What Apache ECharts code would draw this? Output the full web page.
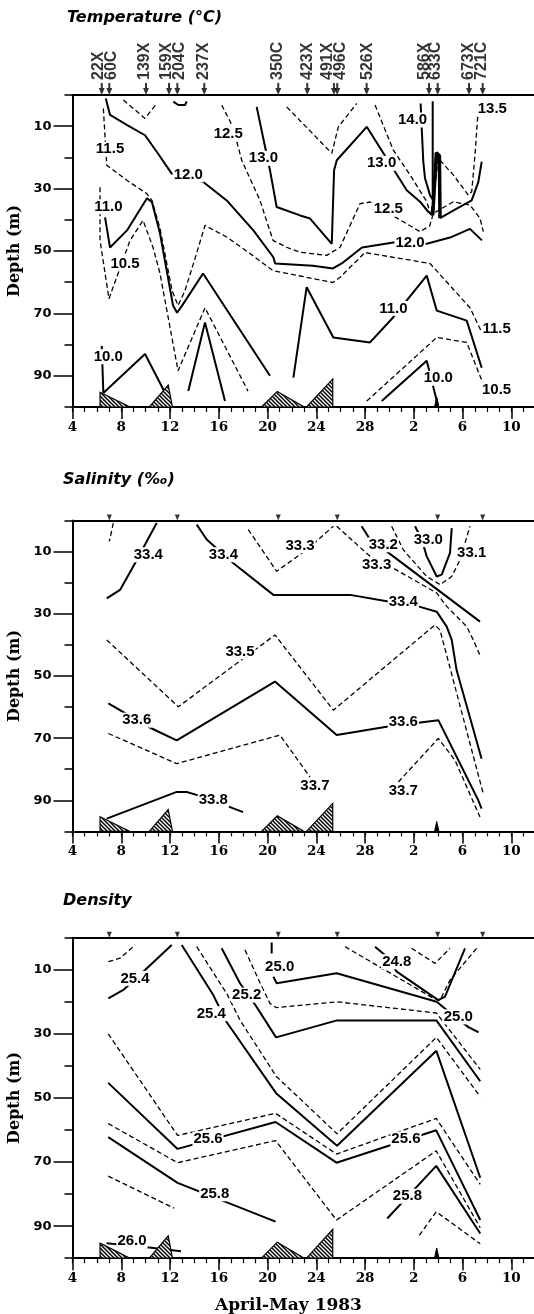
<!DOCTYPE html>
<html>
<head>
<meta charset="utf-8">
<title>Temperature, salinity and density sections, April-May 1983</title>
<script src="https://cdn.jsdelivr.net/npm/echarts@6/dist/echarts.min.js"></script>
<style>
html,body{margin:0;padding:0;background:#fff;}
#chart{width:534px;height:1314px;}
</style>
</head>
<body>
<div id="chart"></div>
<script>
// ---------------- data (day of April; May 2 = 32; depth in m) ----------------
const xTickDays = [4, 8, 12, 16, 20, 24, 28, 32, 36, 40];
const xTickLabels = ['4', '8', '12', '16', '20', '24', '28', '2', '6', '10'];
const depthTickLabels = [10, 30, 50, 70, 90];
const panelTitles = ['Temperature (°C)', 'Salinity (‰)', 'Density'];
const xAxisTitle = 'April-May 1983';
const yAxisTitle = 'Depth (m)';

const stationNames = ['22X', '60C', '139X', '159X', '204C', '237X', '350C', '423X', '491X', '496C', '526X', '586X', '633C', '673X', '721C'];
const stationDays = [6.40, 7.02, 10.03, 11.92, 12.60, 14.81, 20.88, 23.26, 25.45, 25.72, 28.13, 33.25, 33.96, 36.53, 37.65];
const ctdDays = [7.02, 12.60, 20.88, 25.72, 33.96, 37.65];

// bottom features (hatched) and the small bottom spike
const bottomShapes = [
  [[6.26, 95.3], [8.7, 100], [6.26, 100]],
  [[10.3, 100], [11.85, 93], [12.2, 100]],
  [[19.5, 100], [20.8, 95], [23.0, 100]],
  [[23.2, 100], [25.35, 91], [25.35, 100]]
];
const spikeShapes = [[[33.7, 100], [33.88, 96.8], [34.06, 100]]];

// ---- Temperature contours ----
const T120 = [[6.73,1.1],[7.08,6.4],[8.45,9.6],[9.95,12.9],[10.91,18.2],[12.14,25.2],[13.5,26.6],[14.73,27.9],[16.65,33.8],[18.84,43.4],[20.48,52.0],[20.62,54.0],[23.73,54.7],[25.37,55.6],[26.19,53.7],[27.75,48.9],[30.46,47.2],[33.06,47.7],[34.97,45.7],[36.61,42.9],[37.59,46.6]];
const T115 = [[6.53,4.3],[6.81,22.5],[8.45,27.3],[10.09,31.6],[10.52,33.8],[11.18,42.8],[12.17,62.7],[12.66,67.5],[13.23,62.7],[14.13,51.4],[14.87,41.8],[16.68,45.6],[18.56,50.8],[20.45,56.3],[25.37,60.1],[25.95,58.4],[28.0,50.5],[33.33,54.0],[36.61,68.2],[37.59,76.2]];
const T110a = [[6.67,39.2],[7.08,48.9],[8.47,43.4],[10.11,33.1],[10.52,34.4],[11.18,44.4],[12.25,67.5],[12.58,69.8],[12.99,67.5],[14.71,57.2],[20.2,90.0]];
const T110b = [[22.12,90.6],[23.21,61.6],[25.40,77.7],[28.41,79.3],[30.3,71.3],[33.06,57.9],[33.88,69.1],[36.34,72.3],[37.57,87.4]];
const T105a = [[6.26,29.6],[6.26,46.6],[6.99,65.3],[8.72,46.6],[9.79,40.2],[10.61,48.9],[11.18,57.2],[12.66,88.4],[14.87,68.2],[18.40,94.9]];
const T105b = [[28.14,98.1],[33.88,77.7],[36.34,79.3],[37.70,92.7]];
const T100a = [[6.40,80.4],[6.53,95.5],[9.95,83.0],[12.1,99.3]];
const T100b = [[29.37,98.1],[33.06,85.2],[34.01,100]];
const TPeak = [[13.50,94.9],[14.87,72.9],[16.51,98.1]];
const T125 = [[16.24,3.2],[17.17,10.3],[17.88,20.9],[19.38,33.8],[20.45,46.6],[21.57,48.8],[22.67,50.4],[24.86,51.4],[25.95,48.8],[27.59,34.8],[28.41,34.3],[31.42,41.3],[32.51,43.8],[33.3,42.0],[33.6,38.0],[34.0,37.0],[35.24,34.2],[36.61,35.3],[37.43,39.5],[37.7,43.8]];
const T130 = [[19.11,3.8],[20.2,24.1],[20.75,35.9],[22.67,38.6],[23.49,39.6],[25.27,47.7],[25.46,24.1],[25.68,20.9],[28.14,10.2],[31.42,30.5],[32.51,34.2],[33.2,37.5],[33.55,38.5]];
const T130b = [[34.15,39.5],[35.52,36.4],[36.75,33.8],[37.29,27.9],[37.57,21.4]];
const T135a = [[21.57,3.8],[25.27,18.7],[25.81,10.2],[27.32,2.7]];
const T135b = [[28.82,3.2],[30.32,17.7],[31.69,25.6],[33.06,34.2],[33.4,38.5],[33.7,30.0],[34.01,20.3],[35.24,25.6],[36.47,32.1],[36.75,31.0],[37.02,19.2],[37.29,4.3]];
const T140 = [[32.56,2.7],[32.65,10.7],[32.78,21.4],[32.92,26.7],[33.33,32.1],[33.55,33.5],[33.55,2.0]];
const TSpike = [[33.55,38.5],[33.85,18.5],[34.1,19.5],[34.15,39.5]];
const TTopV = [[8.17,1.6],[9.95,7.5],[10.91,2.7]];
const TTopArc = [[12.27,2.1],[12.68,3.2],[13.23,3.2],[13.37,2.1]];
const tempLabels = [[7.08,17.4,'11.5'],[13.5,25.6,'12.0'],[6.94,35.8,'11.0'],[16.78,12.3,'12.5'],[19.66,20.3,'13.0'],[8.31,54.0,'10.5'],[6.94,83.9,'10.0'],[31.9,8.0,'14.0'],[38.44,4.3,'13.5'],[29.36,21.9,'13.0'],[29.91,36.6,'12.5'],[31.69,47.5,'12.0'],[30.32,68.4,'11.0'],[38.79,74.8,'11.5'],[34.01,90.8,'10.0'],[38.79,94.5,'10.5']];

// ---- Salinity contours ----
const S334a = [[10.91,0.8],[9.95,7.7],[9.13,13.7],[7.9,22.3],[6.81,25.0]];
const SDashLeft = [[7.35,0.8],[7.02,6.7]];
const S334b = [[14.19,1.3],[15.01,6.1],[17.2,13.7],[20.48,23.9],[22.66,23.9],[26.77,23.9],[29.91,26.0],[32.37,27.6],[33.88,29.3],[34.7,34.1],[35.11,38.4],[35.51,48.1],[37.56,76.6]];
const S333a = [[18.42,2.9],[20.75,16.3],[23.21,9.4],[25.4,1.8]];
const S332 = [[27.72,1.8],[28.41,6.1],[29.77,9.9],[37.43,32.5]];
const S333b = [[25.67,1.8],[28.41,11.5],[30.32,15.3],[33.88,23.3],[34.7,27.6],[36.34,34.1],[36.88,38.4],[37.48,43.8]];
const S331 = [[30.18,1.8],[31.14,9.4],[33.06,18.0],[34.15,20.6],[35.11,18.0],[35.79,12.6],[36.61,1.8]];
const S330 = [[32.1,1.8],[32.65,6.1],[33.06,11.5],[33.88,18.0],[34.29,17.4],[34.97,10.4],[35.11,2.4]];
const S335 = [[6.81,38.4],[12.68,59.9],[20.61,36.8],[25.4,61.0],[33.73,33.6],[34.15,35.2],[37.7,87.9]];
const S336 = [[6.94,58.8],[10.5,66.9],[12.55,70.7],[20.61,51.8],[25.67,69.0],[29.77,66.3],[34.01,64.2],[34.7,69.6],[37.29,90.0],[37.56,92.7]];
const S337a = [[6.94,68.5],[12.55,78.2],[21.02,69.0],[23.48,82.5]];
const S337b = [[30.73,84.1],[34.01,70.1],[35.38,77.1],[37.43,95.4]];
const S338 = [[6.81,95.9],[12.55,87.3],[13.37,87.3],[14.32,88.4],[16.92,92.2],[18.0,93.8]];
const salLabels = [[10.22,11.0,'33.4'],[16.38,11.0,'33.4'],[22.67,8.1,'33.3'],[29.5,7.8,'33.2'],[28.95,14.2,'33.3'],[33.19,6.1,'33.0'],[36.75,10.4,'33.1'],[31.14,26.0,'33.4'],[17.74,42.2,'33.5'],[9.27,64.2,'33.6'],[31.14,64.7,'33.6'],[23.89,85.2,'33.7'],[31.14,86.8,'33.7'],[15.55,90.0,'33.8']];

// ---- Density contours ----
const DTopLeft = [[6.94,7.5],[7.9,6.4],[9.13,2.3]];
const D254a = [[12.14,2.3],[9.95,10.1],[8.17,16.3],[6.94,18.9]];
const D254b = [[12.96,2.3],[15.55,17.9],[16.64,26.3],[20.7,48.5],[25.7,64.9],[33.85,35.3],[37.45,74.9]];
const D253 = [[14.19,2.8],[16.65,17.4],[17.74,25.7],[20.7,43.2],[25.7,61.2],[33.85,31.1],[37.45,49.6]];
const D252 = [[16.24,3.3],[17.74,14.2],[19.0,21.0],[20.7,31.1],[25.7,25.8],[33.85,25.8],[37.45,44.8]];
const D251 = [[18.15,3.8],[19.4,14.2],[20.2,20.5],[20.7,21.8],[25.7,20.0],[33.85,23.5],[37.45,41.1]];
const D250 = [[20.48,12.2],[20.75,14.2],[25.67,11.1],[33.88,20.0],[35.0,23.5],[36.48,27.9],[37.31,29.5]];
const D250Stub = [[20.34,1.5],[20.34,4.9]];
const D249 = [[26.36,2.8],[33.6,18.9],[34.15,19.5],[34.97,13.2],[37.16,3.3]];
const D248 = [[28.82,2.8],[29.77,5.9],[30.6,10.6],[34.01,19.5],[34.56,18.4],[36.2,3.3]];
const D247 = [[31.82,3.3],[33.74,8.0],[34.97,3.3]];
const D255 = [[6.93,30.0],[12.62,61.7],[20.66,54.8],[25.66,67.5],[33.84,56.4],[37.45,77.0]];
const D256 = [[6.93,45.3],[12.62,65.9],[20.66,57.5],[25.66,70.2],[33.84,60.1],[37.45,88.1]];
const D257 = [[6.93,58.0],[12.62,70.2],[20.66,63.3],[25.66,88.1],[33.84,66.5],[37.45,90.5]];
const D258a = [[6.93,62.2],[12.62,76.5],[20.66,88.6]];
const D258b = [[29.82,87.6],[33.84,71.2],[37.45,92.3]];
const D259a = [[6.93,74.4],[12.34,84.4]];
const D259b = [[32.45,92.9],[33.84,85.5],[37.45,95.5]];
const D260 = [[6.79,95.3],[10.12,96.6],[12.9,97.8]];
const denLabels = [[9.13,12.7,'25.4'],[15.39,23.7,'25.4'],[18.29,17.9,'25.2'],[21.0,9.0,'25.0'],[30.6,7.5,'24.8'],[35.65,24.7,'25.0'],[15.12,62.8,'25.6'],[31.35,62.8,'25.6'],[15.67,79.9,'25.8'],[31.48,80.7,'25.8'],[8.88,94.6,'26.0']];

// ---------------- layout and style ----------------
const panels = [
  { top: 95, height: 312,
    solid: [T120, T110a, T110b, T100a, T100b, TPeak, T130, T130b, T140, TTopArc],
    dashed: [T115, T105a, T105b, T125, T135a, T135b, TTopV],
    heavy: [TSpike], labels: tempLabels },
  { top: 520.6, height: 310.8,
    solid: [S334a, S334b, S332, S330, S336, S338],
    dashed: [SDashLeft, S333a, S333b, S331, S335, S337a, S337b],
    heavy: [], labels: salLabels },
  { top: 937.7, height: 320.5,
    solid: [D254a, D254b, D252, D250, D250Stub, D248, D256, D258a, D258b, D260],
    dashed: [DTopLeft, D253, D251, D249, D247, D255, D257, D259a, D259b],
    heavy: [], labels: denLabels }
];
const labelShift = [-3, 2, -1, -2, 2, -1, -1, 0, -6, 3, 1, -4, -2, 0, -1];
const LEFT = 72.5, WIDTH = 463.2;
const BLACK = '#000';

const hatchCanvas = document.createElement('canvas');
hatchCanvas.width = 4; hatchCanvas.height = 4;
(function () {
  const c = hatchCanvas.getContext('2d');
  c.fillStyle = '#fff'; c.fillRect(0, 0, 4, 4);
  c.strokeStyle = '#000'; c.lineWidth = 1.5;
  c.beginPath();
  c.moveTo(-1, -1); c.lineTo(5, 5);
  c.moveTo(-3, 1); c.lineTo(3, 7);
  c.moveTo(1, -3); c.lineTo(7, 3);
  c.stroke();
})();
const hatchFill = { image: hatchCanvas, repeat: 'repeat' };

function fmtX(v) {
  const i = xTickDays.indexOf(Math.round(v));
  return (i >= 0 && Math.abs(v - Math.round(v)) < 1e-6) ? xTickLabels[i] : '';
}

const grid = [], xAxis = [], yAxis = [], series = [];
panels.forEach(function (p, g) {
  grid.push({ left: LEFT, top: p.top, width: WIDTH, height: p.height, containLabel: false, outerBoundsMode: 'none' });
  xAxis.push(
    { gridIndex: g, type: 'value', min: 4, max: 42, interval: 4, position: 'bottom',
      axisLine: { show: true, onZero: false, lineStyle: { color: BLACK, width: 2 } },
      axisTick: { show: true, inside: false, length: 12, lineStyle: { color: BLACK, width: 1.5 } },
      axisLabel: { show: true, margin: 13, formatter: fmtX, color: BLACK, fontFamily: 'DejaVu Serif', fontWeight: 'bold', fontSize: 13.5, showMaxLabel: false },
      splitLine: { show: false } },
    { gridIndex: g, type: 'value', min: 4, max: 42, interval: 1, position: 'bottom',
      axisLine: { show: false, onZero: false }, axisTick: { show: true, length: 5, lineStyle: { color: BLACK, width: 1.2 } },
      axisLabel: { show: false }, splitLine: { show: false } },
    { gridIndex: g, type: 'value', min: 4, max: 42, position: 'top',
      axisLine: { show: true, onZero: false, lineStyle: { color: BLACK, width: 2 } },
      axisTick: { show: false }, axisLabel: { show: false }, splitLine: { show: false } }
  );
  yAxis.push(
    { gridIndex: g, type: 'value', inverse: true, min: 0, max: 100, interval: 10, position: 'left',
      name: yAxisTitle, nameLocation: 'middle', nameGap: 44, nameRotate: 90,
      nameTextStyle: { fontFamily: 'DejaVu Serif', fontWeight: 'bold', fontSize: 16, color: BLACK },
      axisLine: { show: true, onZero: false, lineStyle: { color: BLACK, width: 2 } },
      axisTick: { show: true, inside: false, length: 8, lineStyle: { color: BLACK, width: 1.5 } },
      axisLabel: { show: true, customValues: depthTickLabels, margin: 21, color: BLACK, fontFamily: 'DejaVu Sans', fontWeight: 'bold', fontSize: 13 },
      splitLine: { show: false } },
    { gridIndex: g, type: 'value', inverse: true, min: 0, max: 100, interval: 10, position: 'left',
      axisLine: { show: false, onZero: false },
      axisTick: { show: true, inside: false, length: 19, customValues: depthTickLabels, lineStyle: { color: BLACK, width: 1.5 } },
      axisLabel: { show: false }, splitLine: { show: false } }
  );
  const xi = 3 * g, yi = 2 * g;
  function addLine(data, style) {
    series.push({ type: 'line', xAxisIndex: xi, yAxisIndex: yi, data: data, showSymbol: false, symbol: 'none',
      smooth: false, silent: true, animation: false, z: 2, lineStyle: style });
  }
  p.solid.forEach(function (d) { addLine(d, { color: BLACK, width: 2, type: 'solid' }); });
  p.dashed.forEach(function (d) { addLine(d, { color: BLACK, width: 1.3, type: [5, 3] }); });
  p.heavy.forEach(function (d) { addLine(d, { color: BLACK, width: 3.5, type: 'solid' }); });

  series.push({ type: 'custom', xAxisIndex: xi, yAxisIndex: yi, silent: true, animation: false, z: 4, clip: false,
    data: bottomShapes.map(function (s) { return s[0]; }),
    renderItem: function (params, api) {
      const pts = bottomShapes[params.dataIndex].map(function (q) { return api.coord(q); });
      return { type: 'polygon', shape: { points: pts }, style: { fill: hatchFill, stroke: BLACK, lineWidth: 1.2 } };
    } });
  series.push({ type: 'custom', xAxisIndex: xi, yAxisIndex: yi, silent: true, animation: false, z: 4, clip: false,
    data: spikeShapes.map(function (s) { return s[0]; }),
    renderItem: function (params, api) {
      const pts = spikeShapes[params.dataIndex].map(function (q) { return api.coord(q); });
      return { type: 'polygon', shape: { points: pts }, style: { fill: BLACK, stroke: BLACK, lineWidth: 1 } };
    } });

  series.push({ type: 'scatter', xAxisIndex: xi, yAxisIndex: yi, silent: true, animation: false, z: 6,
    symbolSize: 1, itemStyle: { color: '#fff', opacity: 1 },
    data: p.labels.map(function (a) { return { value: [a[0], a[1]], name: a[2] }; }),
    label: { show: true, position: 'inside', formatter: '{b}', color: BLACK, opacity: 1,
      textBorderWidth: 0, textShadowBlur: 0,
      fontFamily: "'Liberation Sans Narrow', 'Liberation Sans', sans-serif", fontWeight: 'bold', fontSize: 15,
      backgroundColor: '#fff', padding: [0, 1] } });

  if (g === 0) {
    series.push({ type: 'scatter', xAxisIndex: xi, yAxisIndex: yi, silent: true, animation: false, z: 7, clip: false,
      symbol: 'path://M2,0L4,0L4,5L6,5L3,12L0,5L2,5Z', symbolSize: [6, 12], symbolOffset: [0, -6],
      itemStyle: { color: BLACK },
      data: stationDays.map(function (d, i) {
        return { value: [d, 0], name: stationNames[i], label: { offset: [0, labelShift[i]] } };
      }),
      label: { show: true, position: 'top', distance: 3, rotate: 90, align: 'left', verticalAlign: 'middle',
        formatter: '{b}', color: BLACK, fontFamily: 'Liberation Sans', fontWeight: 'bold', fontSize: 16 } });
  } else {
    series.push({ type: 'scatter', xAxisIndex: xi, yAxisIndex: yi, silent: true, animation: false, z: 7, clip: false,
      symbol: 'triangle', symbolRotate: 180, symbolSize: [5, 6], symbolOffset: [0, -3],
      itemStyle: { color: BLACK },
      data: ctdDays.map(function (d) { return [d, 0]; }) });
  }
});

const titleStyle = { fontFamily: 'DejaVu Sans', fontWeight: 'bold', fontStyle: 'italic', fontSize: 16, color: BLACK };
const option = {
  animation: false,
  backgroundColor: '#fff',
  title: [
    { text: panelTitles[0], left: 67, top: 10, padding: 0, textStyle: titleStyle },
    { text: panelTitles[1], left: 63, top: 472, padding: 0, textStyle: titleStyle },
    { text: panelTitles[2], left: 63, top: 893, padding: 0, textStyle: titleStyle },
    { text: xAxisTitle, left: 215, top: 1297, padding: 0,
      textStyle: { fontFamily: 'DejaVu Serif', fontWeight: 'bold', fontSize: 17, color: BLACK } }
  ],
  grid: grid,
  xAxis: xAxis,
  yAxis: yAxis,
  series: series
};

const chart = echarts.init(document.getElementById('chart'), null, { renderer: 'canvas' });
chart.setOption(option);
</script>
</body>
</html>
